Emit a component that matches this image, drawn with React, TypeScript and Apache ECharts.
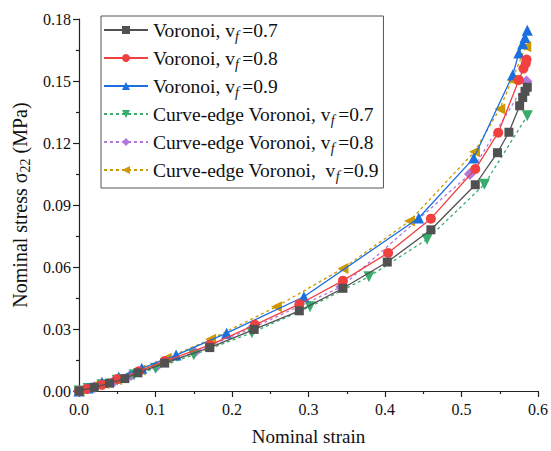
import React, { useEffect, useRef } from "react";
import * as echarts from "echarts";

const xTicks = ["0.0", "0.1", "0.2", "0.3", "0.4", "0.5", "0.6"];

const v07x = [0, 0.02, 0.04, 0.06, 0.077, 0.112, 0.171, 0.229, 0.288, 0.345, 0.403, 0.46, 0.518, 0.547, 0.562, 0.576, 0.58, 0.583, 0.586];
const v07y = [0, 0.0018, 0.0038, 0.006, 0.0088, 0.0135, 0.021, 0.0298, 0.0388, 0.0497, 0.0624, 0.078, 0.0998, 0.1153, 0.1252, 0.138, 0.142, 0.145, 0.147];

const v08x = [0, 0.01, 0.03, 0.05, 0.078, 0.112, 0.171, 0.23, 0.288, 0.345, 0.404, 0.46, 0.518, 0.548, 0.575, 0.581, 0.584, 0.585];
const v08y = [0, 0.001, 0.003, 0.0058, 0.0095, 0.0145, 0.0222, 0.032, 0.042, 0.0534, 0.0668, 0.0834, 0.1074, 0.125, 0.1505, 0.156, 0.1585, 0.1604];

const v09x = [0, 0.012, 0.03, 0.052, 0.082, 0.127, 0.193, 0.294, 0.444, 0.516, 0.567, 0.575, 0.58, 0.583, 0.586];
const v09y = [0, 0.0015, 0.0042, 0.0068, 0.011, 0.0174, 0.028, 0.0456, 0.0837, 0.1127, 0.153, 0.1635, 0.168, 0.171, 0.1745];

const c07x = [0, 0.012, 0.03, 0.05, 0.072, 0.1, 0.15, 0.226, 0.302, 0.379, 0.455, 0.53, 0.586];
const c07y = [0, 0.0012, 0.003, 0.0052, 0.0078, 0.011, 0.0175, 0.0282, 0.0408, 0.0553, 0.0734, 0.1, 0.1332];

const c08x = [0, 0.02, 0.045, 0.068, 0.101, 0.151, 0.227, 0.343, 0.511, 0.585];
const c08y = [0, 0.0018, 0.0045, 0.0077, 0.0118, 0.0188, 0.0306, 0.0504, 0.105, 0.1497];

const c09x = [0, 0.006, 0.018, 0.032, 0.049, 0.08, 0.114, 0.172, 0.258, 0.345, 0.432, 0.517, 0.55, 0.566, 0.584];
const c09y = [0, 0.0013, 0.0024, 0.0036, 0.0055, 0.0102, 0.0158, 0.025, 0.0408, 0.0593, 0.0822, 0.1158, 0.1365, 0.1505, 0.1666];

const seriesNames = [
  "Voronoi, v{s|f }=0.7",
  "Voronoi, v{s|f }=0.8",
  "Voronoi, v{s|f }=0.9",
  "Curve-edge Voronoi, v{s|f }=0.7",
  "Curve-edge Voronoi, v{s|f }=0.8",
  "Curve-edge Voronoi,  v{s|f }=0.9",
];

const FONT = "'Liberation Serif', 'Times New Roman', serif";

function zip(xs: number[], ys: number[]) {
  return xs.map((x, i) => [x, ys[i]]);
}

export default function App() {
  const ref = useRef<HTMLDivElement>(null);
  useEffect(() => {
    if (!ref.current) return;
    const chart = echarts.init(ref.current, null, { renderer: "svg" });
    const mk = (
      i: number,
      xs: number[],
      ys: number[],
      color: string,
      symbol: string,
      rotate: number,
      dashed: boolean,
      size: number
    ) => ({
      type: "line",
      name: seriesNames[i],
      data: zip(xs, ys),
      symbol,
      symbolSize: size,
      symbolRotate: rotate,
      showAllSymbol: true,
      itemStyle: { color, opacity: 1 },
      lineStyle: dashed
        ? { color, width: 1.3, type: [3, 3] }
        : { color, width: 1.3, type: "solid" },
      z: 10 - i,
    });
    chart.setOption({
      animation: false,
      backgroundColor: "#fff",
      grid: { left: 79, right: 10, top: 19, bottom: 60, containLabel: false },
      legend: {
        orient: "vertical",
        left: 101,
        top: 16,
        itemWidth: 44,
        itemHeight: 10,
        itemGap: 5,
        padding: [4, 5, 5, 2],
        borderColor: "#555",
        borderWidth: 1,
        backgroundColor: "#fff",
        data: seriesNames,
        textStyle: {
          fontFamily: FONT,
          fontSize: 19.5,
          color: "#111",
          lineHeight: 20,
          rich: {
            s: {
              fontFamily: FONT,
              fontSize: 14,
              fontStyle: "italic",
              color: "#111",
              padding: [12, 0, 0, 0],
            },
          },
        },
      },
      xAxis: {
        type: "value",
        min: 0,
        max: 0.6,
        interval: 0.1,
        name: "Nominal strain",
        nameLocation: "middle",
        nameGap: 36,
        nameTextStyle: { fontFamily: FONT, fontSize: 19, color: "#111" },
        axisLine: { show: true, onZero: false, lineStyle: { color: "#222", width: 1.2 } },
        axisTick: { show: true, inside: false, length: 6, lineStyle: { color: "#222", width: 1.2 } },
        minorTick: { show: true, splitNumber: 2, length: 3, lineStyle: { color: "#222", width: 1.2 } },
        splitLine: { show: false },
        axisLabel: {
          fontFamily: FONT,
          fontSize: 16,
          color: "#111",
          margin: 10,
          formatter: (v: number) => xTicks[Math.round(v * 10)] ?? v.toFixed(1),
        },
      },
      yAxis: {
        type: "value",
        min: 0,
        max: 0.18,
        interval: 0.03,
        name: "Nominal stress σ{s|22} (MPa)",
        nameLocation: "middle",
        nameGap: 46,
        nameTextStyle: {
          fontFamily: FONT,
          fontSize: 20,
          color: "#111",
          rich: {
            s: { fontFamily: FONT, fontSize: 14, color: "#111", padding: [10, 0, 0, 0] },
          },
        },
        axisLine: { show: true, onZero: false, lineStyle: { color: "#222", width: 1.2 } },
        axisTick: { show: true, inside: false, length: 6, lineStyle: { color: "#222", width: 1.2 } },
        minorTick: { show: true, splitNumber: 2, length: 3, lineStyle: { color: "#222", width: 1.2 } },
        splitLine: { show: false },
        axisLabel: {
          fontFamily: FONT,
          fontSize: 16,
          color: "#111",
          margin: 8,
          formatter: (v: number) => v.toFixed(2),
        },
      },
      series: [
        mk(0, v07x, v07y, "#515151", "rect", 0, false, 9),
        mk(1, v08x, v08y, "#F14040", "circle", 0, false, 10),
        mk(2, v09x, v09y, "#1A6FDF", "triangle", 0, false, 11),
        mk(3, c07x, c07y, "#37AD6B", "triangle", 180, true, 11),
        mk(4, c08x, c08y, "#B177DE", "diamond", 0, true, 12),
        mk(5, c09x, c09y, "#CC9900", "triangle", 90, true, 11),
      ],
    });
    return () => chart.dispose();
  }, []);
  return (
    <div
      ref={ref}
      style={{ position: "fixed", left: 0, top: 0, width: 551, height: 451, background: "#fff" }}
    />
  );
}
